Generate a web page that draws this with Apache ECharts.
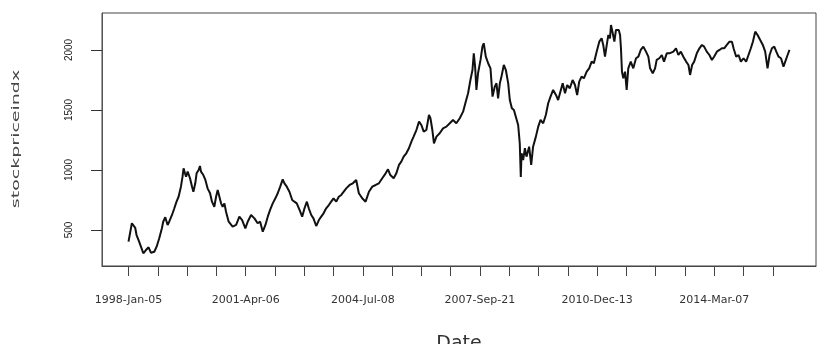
<!DOCTYPE html>
<html>
<head>
<meta charset="utf-8">
<script src="https://cdn.jsdelivr.net/npm/echarts@6/dist/echarts.min.js"></script>
<style>
html,body{margin:0;padding:0;background:#fff;}
#chart{width:833px;height:344px;}
</style>
</head>
<body>
<div id="chart"></div>
<script>
// Observation number (trading day index) of each sampled point
var obsIndex = [
  1,24,33,47,56,69,86,102,120,138,154,177,193,211,229,238,252,268,279,298,314,329,343,359,370,377,387,394,405,421,435,444,457,466,480,489,496,512,526,541,558,571,587,599,610,621,633,644,656,667,685,
  712,736,758,777,799,815,838,861,883,900,918,936,952,968,986,1004,1020,1037,1054,1066,1082,1100,1119,1134,1150,1169,1187,1203,1219,1232,1249,1264,1283,1301,1317,1333,1351,1369,1385,1401,1420,1437,1454,
  1465,1488,1511,1533,1556,1574,1597,1620,1643,1666,1689,1711,1734,1757,1773,1789,1812,1830,1848,1864,1880,1898,1916,1933,1948,1967,1985,2001,2017,2035,2053,2063,2076,2087,2104,2126,2149,2172,2195,
  2217,2240,2263,2286,2304,2320,2336,2350,2359,2368,2377,2388,2405,2418,2427,2441,2457,2473,2487,2502,2514,2525,2537,2548,2564,2578,2594,2605,2619,2633,2646,2662,2673,2680,2685,2696,2708,2719,2737,2751,2764,2783,2799,2815,2833,2851,2867,2883,2901,2920,2935,
  2966,2982,2997,3015,3034,3050,3065,3079,3095,3111,3130,3147,3164,3179,3198,3216,3232,3243,3255,3267,3278,3289,3296,3308,3319,3330,3339,3349,3358,3364,3371,3380,3392,3403,3414,3431,3448,3467,3483,3499,3517,3535,3551,3563,3581,3597,3608,3626,3643,3658,3677,3695,
  3722,3740,3756,3773,3790,3809,3825,3836,3850,3864,3882,3900,3917,3932,3950,3968,3985,4000,4019,4037,4053,4069,4087,4105,4122,4133,4151,4167,4183,4201,4219,4235,4251,4265,4281,4297,4315,4333,4349,4365,4379,4395,4411,4425,4440,4457,4474,4486,4502,4515
];
// Stock price index values
var priceIndex = [
  403,556,542,517,458,417,361,306,333,356,311,319,361,431,514,569,606,542,569,625,681,736,777,861,944,1014,972,944,986,931,861,819,889,972,1000,1033,986,958,917,847,806,736,694,777,833,819,722,694,722,652,569,
  528,542,611,583,514,569,625,597,556,569,486,542,611,667,722,764,806,861,922,889,861,819,750,736,722,667,611,681,736,681,625,597,533,583,611,639,681,708,736,764,736,777,792,
  806,847,875,889,917,806,764,736,819,861,875,889,931,972,1006,958,931,972,1042,1069,1111,1139,1181,1236,1278,1333,1403,1375,1319,1333,1458,1431,1333,1222,1278,1306,1347,1361,1389,
  1417,1389,1431,1486,1569,1639,1750,1833,1972,1861,1667,1806,1917,2028,2056,1944,1889,1847,1611,1694,1722,1597,1722,1778,1875,1833,1722,1583,1514,1500,1444,1375,1222,942,1139,1083,1181,1111,1194,1042,1194,1278,1361,1417,1389,1458,1556,1611,1667,1625,1583,
  1722,1639,1708,1681,1750,1708,1625,1736,1778,1764,1819,1847,1903,1889,1986,2069,2097,2042,1944,2042,2125,2097,2208,2139,2069,2167,2153,2167,2125,2014,1819,1764,1819,1667,1847,1903,1847,1931,1944,2000,2028,1986,1944,1847,1806,1847,1917,1931,1958,1903,1972,1972,
  1986,2014,1958,1986,1944,1903,1875,1792,1875,1903,1972,2014,2042,2028,1986,1958,1917,1944,1986,2000,2014,2014,2042,2069,2069,2014,1944,1958,1903,1931,1903,1958,2014,2069,2153,2125,2083,2042,1986,1847,1958,2014,2028,1986,1944,1931,1861,1903,1958,2000
];
// X axis ticks (observation numbers) and the labelled ones with their dates
var xTickIdx = [1,201,401,601,801,1001,1201,1401,1601,1801,2001,2201,2401,2601,2801,3001,3201,3401,3601,3801,4001,4201,4401];
var xLabelIdx = [1,801,1601,2401,3201,4001];
var xLabelText = ['1998-Jan-05','2001-Apr-06','2004-Jul-08','2007-Sep-21','2010-Dec-13','2014-Mar-07'];
// Y axis ticks
var yTicks = [500,1000,1500,2000];
var yLabelText = ['500','1000','1500','2000'];
var xName = 'Date';
var yName = 'stockpriceindx';

var seriesData = obsIndex.map(function(d,i){ return [d, priceIndex[i]]; });

var chart = echarts.init(document.getElementById('chart'), null, {renderer:'canvas'});
chart.setOption({
  animation: false,
  grid: [
    {left:102, right:17, top:13, bottom:78, outerBoundsMode:'none', show:true, borderColor:'#444'},
    // narrow strip left of the plot, used only to draw the y tick marks
    {left:91, width:11, top:13, bottom:78, outerBoundsMode:'none', show:false}
  ],
  xAxis: [{
    type:'value', min:-180, max:4696, gridIndex:0,
    name: xName, nameLocation:'middle', nameGap:69,
    nameTextStyle:{fontFamily:'DejaVu Sans', fontSize:19, color:'#333'},
    axisLine:{show:true, onZero:false, lineStyle:{color:'#444'}},
    splitLine:{show:false},
    axisTick:{show:true, length:10, customValues:xTickIdx, lineStyle:{color:'#444'}},
    axisLabel:{customValues:xLabelIdx, margin:29, fontFamily:'DejaVu Sans', fontSize:11, color:'#333',
      formatter:function(v){ var k = xLabelIdx.indexOf(v); return k>=0 ? xLabelText[k] : ''; }}
  }, {
    type:'value', min:0, max:1, gridIndex:1,
    axisLine:{show:false}, axisTick:{show:false}, axisLabel:{show:false}, splitLine:{show:false}
  }],
  yAxis: [{
    type:'value', min:200, max:2308, gridIndex:0,
    axisLine:{show:true, onZero:false},
    splitLine:{show:false},
    axisTick:{show:true, length:11, customValues:yTicks, lineStyle:{color:'#333'}},
    axisLabel:{customValues:yTicks, rotate:90, margin:28, fontFamily:'Liberation Sans', fontSize:10, color:'#222',
      formatter:function(v){ var k = yTicks.indexOf(v); return k>=0 ? yLabelText[k] : ''; }}
  }, {
    type:'value', min:200, max:2308, gridIndex:1,
    axisLine:{show:false, onZero:false},
    axisTick:{show:false, customValues:yTicks},
    axisLabel:{show:false, customValues:yTicks},
    splitLine:{show:true, lineStyle:{color:'#333', width:1}}
  }],
  graphic: [{
    type:'text', x:16, y:139, rotation:Math.PI/2, scaleX:1.9, scaleY:1,
    style:{text:yName, font:'10px "DejaVu Sans"', fill:'#444', align:'center', verticalAlign:'middle'}
  }],
  series: [{
    type:'line', xAxisIndex:0, yAxisIndex:0, data:seriesData, showSymbol:false, symbol:'none',
    lineStyle:{color:'#111', width:2}
  }]
});
</script>
</body>
</html>
